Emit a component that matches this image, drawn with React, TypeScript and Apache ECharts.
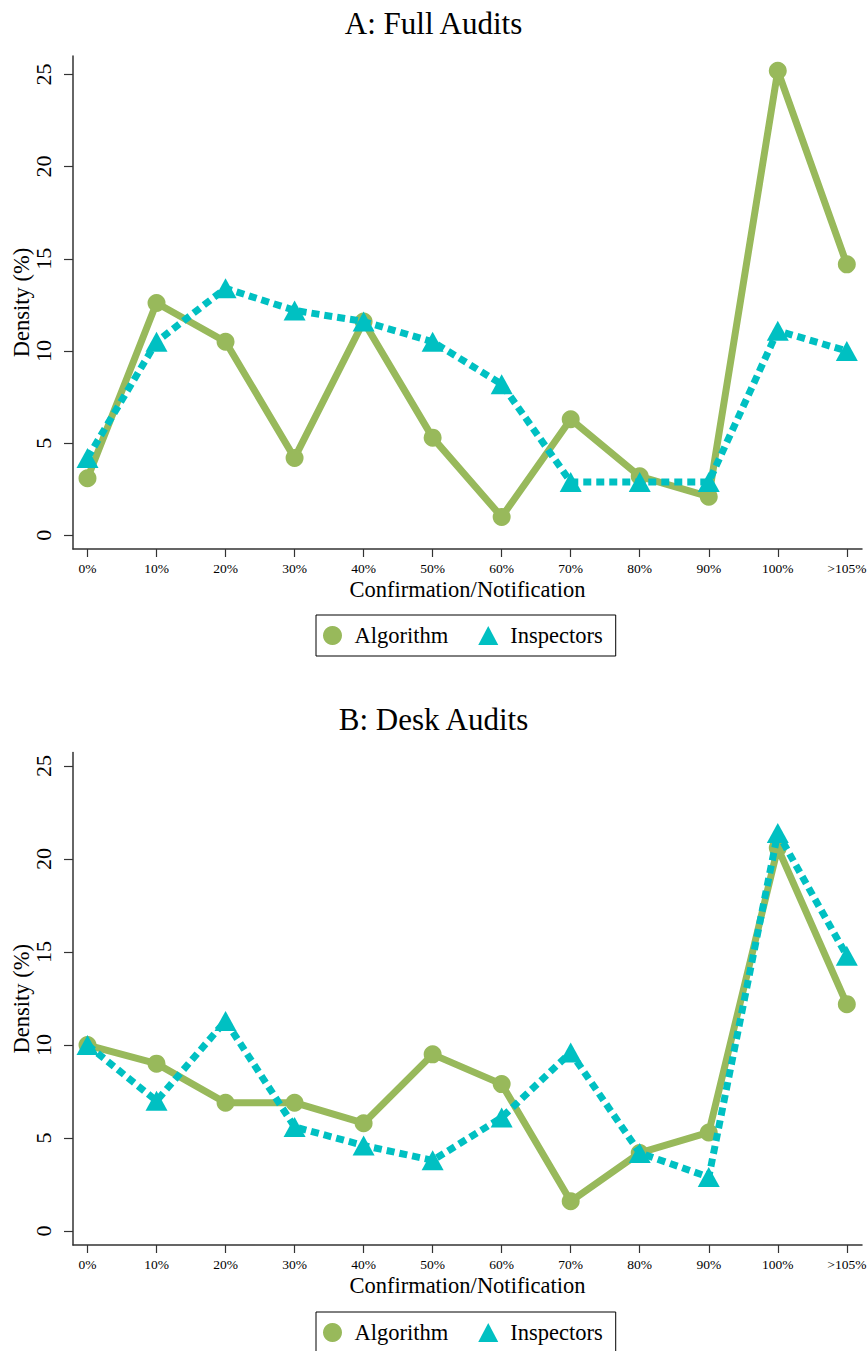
import React, { useEffect, useRef } from 'react';
import * as echarts from 'echarts';

const CATEGORIES = ['0%', '10%', '20%', '30%', '40%', '50%', '60%', '70%', '80%', '90%', '100%', '>105%'];
const Y_TICKS = [0, 5, 10, 15, 20, 25];
const SERIES_NAMES = ['Algorithm', 'Inspectors'];
const PANEL_TITLES = ['A: Full Audits', 'B: Desk Audits'];
const X_TITLE = 'Confirmation/Notification';
const Y_TITLE = 'Density (%)';

const FULL_ALGORITHM = [3.1, 12.6, 10.5, 4.2, 11.6, 5.3, 1.0, 6.3, 3.2, 2.1, 25.2, 14.7];
const FULL_INSPECTORS = [4.2, 10.5, 13.4, 12.2, 11.6, 10.5, 8.2, 2.9, 2.9, 2.9, 11.1, 10.0];
const DESK_ALGORITHM = [10.0, 9.0, 6.9, 6.9, 5.8, 9.5, 7.9, 1.6, 4.2, 5.3, 20.6, 12.2];
const DESK_INSPECTORS = [10.0, 7.0, 11.3, 5.6, 4.6, 3.8, 6.1, 9.6, 4.2, 2.9, 21.4, 14.8];

const GREEN = '#98B95B';
const CYAN = '#00C0C2';
const AXIS_COLOR = '#333333';
const FONT = "'Liberation Serif', 'Times New Roman', serif";

export default function App() {
  const ref = useRef<HTMLDivElement>(null);

  useEffect(() => {
    if (!ref.current) return;
    const chart = echarts.init(ref.current, null, { renderer: 'svg' });
    const idx = CATEGORIES.map((_, i) => i);

    const makeX = (gridIndex: number) => ({
      type: 'value',
      gridIndex,
      min: -0.21,
      max: 11.22,
      axisLine: { show: true, onZero: false, lineStyle: { color: AXIS_COLOR, width: 1.5 } },
      axisTick: { show: true, length: 8, customValues: idx, lineStyle: { color: AXIS_COLOR, width: 1.2 } },
      axisLabel: {
        customValues: idx,
        formatter: (v: number) => CATEGORIES[Math.round(v)] ?? '',
        fontSize: 13.5,
        margin: 12,
        color: '#000',
        fontFamily: FONT,
      },
      splitLine: { show: false },
      name: X_TITLE,
      nameLocation: 'middle',
      nameGap: 29,
      nameMoveOverlap: false,
      nameTextStyle: { fontSize: 22.5, color: '#000', fontFamily: FONT },
    });

    const makeY = (gridIndex: number, min: number, max: number) => ({
      type: 'value',
      gridIndex,
      min,
      max,
      axisLine: { show: true, onZero: false, lineStyle: { color: AXIS_COLOR, width: 1.5 } },
      axisTick: { show: true, length: 9, customValues: Y_TICKS, lineStyle: { color: AXIS_COLOR, width: 1.2 } },
      axisLabel: {
        customValues: Y_TICKS,
        rotate: 90,
        fontSize: 22,
        margin: 19,
        color: '#000',
        fontFamily: FONT,
      },
      splitLine: { show: false },
      name: Y_TITLE,
      nameLocation: 'middle',
      nameRotate: 90,
      nameGap: 40,
      nameMoveOverlap: false,
      nameTextStyle: { fontSize: 22.5, color: '#000', fontFamily: FONT },
    });

    const makeLegend = (top: number) => ({
      left: 316,
      top,
      orient: 'horizontal',
      data: [
        { name: SERIES_NAMES[0], icon: 'circle' },
        { name: SERIES_NAMES[1], icon: 'triangle' },
      ],
      itemWidth: 20,
      itemHeight: 19,
      itemGap: 30,
      borderColor: '#000',
      borderWidth: 1,
      padding: [9, 13, 9, 7],
      textStyle: { fontSize: 22.5, color: '#000', fontFamily: FONT, padding: [0, 0, 0, 7] },
      selectedMode: false,
    });

    const algo = (gridIndex: number, values: number[]) => ({
      type: 'line',
      name: SERIES_NAMES[0],
      xAxisIndex: gridIndex,
      yAxisIndex: gridIndex,
      data: values.map((v, i) => [i, v]),
      symbol: 'circle',
      symbolSize: 18,
      lineStyle: { color: GREEN, width: 7 },
      itemStyle: { color: GREEN },
      z: 2,
    });
    const insp = (gridIndex: number, values: number[]) => ({
      type: 'line',
      name: SERIES_NAMES[1],
      xAxisIndex: gridIndex,
      yAxisIndex: gridIndex,
      data: values.map((v, i) => [i, v]),
      symbol: 'triangle',
      symbolSize: [22, 20],
      lineStyle: { color: CYAN, width: 7, type: [8, 5] },
      itemStyle: { color: CYAN },
      z: 3,
    });

    chart.setOption({
      animation: false,
      backgroundColor: '#fff',
      title: [
        { text: PANEL_TITLES[0], left: 'center', top: 3, textStyle: { fontSize: 31, fontWeight: 'normal', color: '#000', fontFamily: FONT } },
        { text: PANEL_TITLES[1], left: 'center', top: 699, textStyle: { fontSize: 31, fontWeight: 'normal', color: '#000', fontFamily: FONT } },
      ],
      legend: [makeLegend(615), makeLegend(1312)],
      grid: [
        { left: 73, right: 5, top: 56, height: 493, containLabel: false, outerBoundsMode: 'none' },
        { left: 73, right: 5, top: 752.5, height: 492.5, containLabel: false, outerBoundsMode: 'none' },
      ],
      xAxis: [makeX(0), makeX(1)],
      yAxis: [makeY(0, -0.74, 26.0), makeY(1, -0.75, 25.73)],
      series: [
        algo(0, FULL_ALGORITHM),
        insp(0, FULL_INSPECTORS),
        algo(1, DESK_ALGORITHM),
        insp(1, DESK_INSPECTORS),
      ],
    });

    return () => chart.dispose();
  }, []);

  return <div ref={ref} style={{ position: 'fixed', left: 0, top: 0, width: 867, height: 1351 }} />;
}
